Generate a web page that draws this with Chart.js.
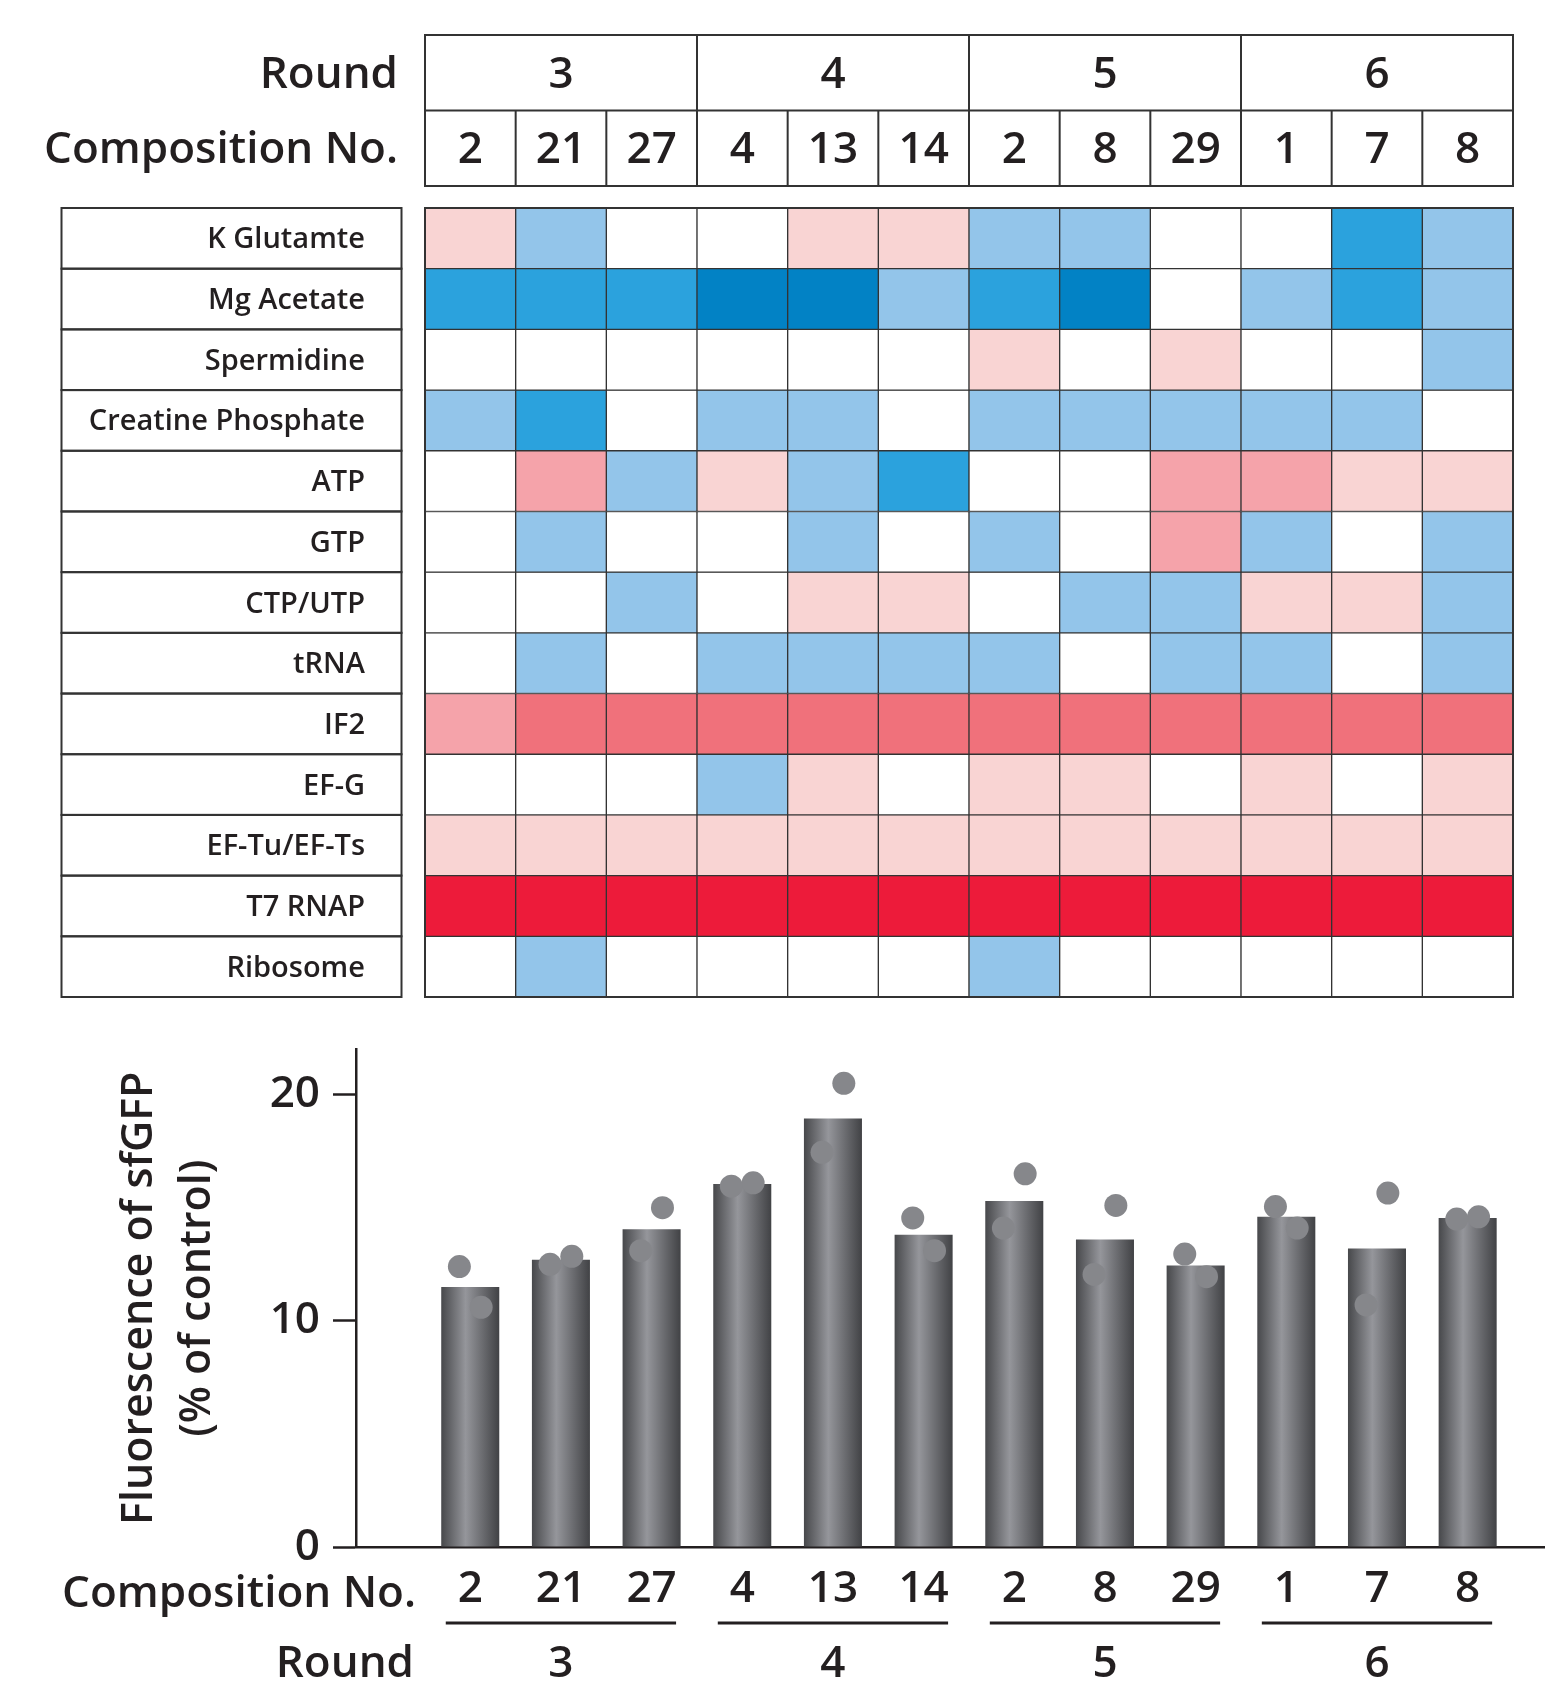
<!DOCTYPE html>
<html>
<head>
<meta charset="utf-8">
<script src="https://cdn.jsdelivr.net/npm/chart.js@4.4.1/dist/chart.umd.min.js"></script>
<style>
  html, body { margin: 0; padding: 0; background: #ffffff; }
  #wrap { position: relative; width: 1545px; height: 1682px; overflow: hidden; }
  canvas { position: absolute; left: 0; }
  #heat_map { top: 0; }
  #bar_chart { top: 1010px; }
</style>
</head>
<body>
<div id="wrap">
  <canvas id="heat_map" width="1545" height="1010"></canvas>
  <canvas id="bar_chart" width="1545" height="672"></canvas>
</div>
<script>
// ---- data ----
var rounds = ['3', '3', '3', '4', '4', '4', '5', '5', '5', '6', '6', '6'];
var compNos = ['2', '21', '27', '4', '13', '14', '2', '8', '29', '1', '7', '8'];
var components = ['K Glutamte', 'Mg Acetate', 'Spermidine', 'Creatine Phosphate', 'ATP', 'GTP',
                  'CTP/UTP', 'tRNA', 'IF2', 'EF-G', 'EF-Tu/EF-Ts', 'T7 RNAP', 'Ribosome'];

// change level per component (rows) and composition (columns); -3 strong blue ... +4 strong red
var lv_kglu  = [ 1, -1,  0,  0,  1,  1, -1, -1,  0,  0, -2, -1];
var lv_mgac  = [-2, -2, -2, -3, -3, -1, -2, -3,  0, -1, -2, -1];
var lv_sperm = [ 0,  0,  0,  0,  0,  0,  1,  0,  1,  0,  0, -1];
var lv_crp   = [-1, -2,  0, -1, -1,  0, -1, -1, -1, -1, -1,  0];
var lv_atp   = [ 0,  2, -1,  1, -1, -2,  0,  0,  2,  2,  1,  1];
var lv_gtp   = [ 0, -1,  0,  0, -1,  0, -1,  0,  2, -1,  0, -1];
var lv_ctp   = [ 0,  0, -1,  0,  1,  1,  0, -1, -1,  1,  1, -1];
var lv_trna  = [ 0, -1,  0, -1, -1, -1, -1,  0, -1, -1,  0, -1];
var lv_if2   = [ 2,  3,  3,  3,  3,  3,  3,  3,  3,  3,  3,  3];
var lv_efg   = [ 0,  0,  0, -1,  1,  0,  1,  1,  0,  1,  0,  1];
var lv_eftu  = [ 1,  1,  1,  1,  1,  1,  1,  1,  1,  1,  1,  1];
var lv_t7    = [ 4,  4,  4,  4,  4,  4,  4,  4,  4,  4,  4,  4];
var lv_ribo  = [ 0, -1,  0,  0,  0,  0, -1,  0,  0,  0,  0,  0];
var levels = [lv_kglu, lv_mgac, lv_sperm, lv_crp, lv_atp, lv_gtp, lv_ctp,
              lv_trna, lv_if2, lv_efg, lv_eftu, lv_t7, lv_ribo];

// fluorescence of sfGFP (% of control): bar = mean, two replicates as dots
var barMean  = [11.5, 12.7, 14.05, 16.05, 18.95, 13.8, 15.3, 13.6, 12.45, 14.6, 13.2, 14.55];
var repLeft  = [12.4, 12.5, 13.1, 15.95, 17.45, 14.55, 14.1, 12.05, 12.95, 15.05, 10.7, 14.5];
var repRight = [10.6, 12.85, 15.0, 16.1, 20.5, 13.1, 16.5, 15.1, 11.95, 14.1, 15.65, 14.6];
var yMax = 22;
var yStep = 10;

// ---- styles ----
var textCol = '#231f20';
var lineCol = '#333333';
var fontFam = "'Open Sans', 'Noto Sans', sans-serif";
var levelColors = {
    '-3': '#0282c5', '-2': '#2ba2dd', '-1': '#93c5ea', '0': '#ffffff',
    '1': '#f9d4d3', '2': '#f5a3aa', '3': '#f0717b', '4': '#ed1b3a'
};
var dotColor = '#86878b';
var barPct = 0.64;
var jitter = 0.12;

Chart.defaults.font.family = fontFam;
Chart.defaults.color = textCol;

function roundGroups() {
    var groups = [], start = 0;
    for (var i = 1; i <= rounds.length; i++) {
        if (i === rounds.length || rounds[i] !== rounds[i - 1]) {
            groups.push({label: rounds[start], first: start, last: i - 1});
            start = i;
        }
    }
    return groups;
}

// ---------- heat map (top) ----------
var heatDatasets = [];
for (var r = 0; r < components.length; r++) {
    heatDatasets.push({
        label: components[r],
        data: compNos.map(function () { return [r, r + 1]; }),
        backgroundColor: levels[r].map(function (v) { return levelColors[String(v)]; }),
        borderColor: lineCol,
        borderWidth: 1,
        borderSkipped: false,
        grouped: false,
        barPercentage: 1,
        categoryPercentage: 1
    });
}

var heatTablePlugin = {
    id: 'heatTable',
    afterDraw: function (chart) {
        var ctx = chart.ctx, a = chart.chartArea, xs = chart.scales.x, ys = chart.scales.y;
        var colW = (a.right - a.left) / compNos.length;
        var top = 35, mid = 110.5, bot = 186;
        ctx.save();
        ctx.strokeStyle = lineCol;
        ctx.lineWidth = 2;
        ctx.fillStyle = textCol;

        // outer frame of the heat map
        ctx.strokeRect(a.left, a.top, a.right - a.left, a.bottom - a.top);

        // header table
        ctx.strokeRect(a.left, top, a.right - a.left, bot - top);
        ctx.beginPath();
        ctx.moveTo(a.left, mid); ctx.lineTo(a.right, mid);
        for (var i = 1; i < compNos.length; i++) {
            var xp = xs.getPixelForValue(i) - colW / 2;
            ctx.moveTo(xp, rounds[i] !== rounds[i - 1] ? top : mid);
            ctx.lineTo(xp, bot);
        }
        ctx.stroke();

        ctx.font = '600 44px ' + fontFam;
        ctx.textAlign = 'center';
        ctx.textBaseline = 'alphabetic';
        roundGroups().forEach(function (g) {
            var cx = (xs.getPixelForValue(g.first) + xs.getPixelForValue(g.last)) / 2;
            ctx.fillText(g.label, cx, (top + mid) / 2 + 15);
        });
        compNos.forEach(function (c, i) {
            ctx.fillText(c, xs.getPixelForValue(i), (mid + bot) / 2 + 15);
        });
        ctx.textAlign = 'right';
        ctx.fillText('Round', 398, (top + mid) / 2 + 15);
        ctx.fillText('Composition No.', 398, (mid + bot) / 2 + 15);

        // component label column
        ctx.font = '600 29px ' + fontFam;
        for (var r = 0; r < components.length; r++) {
            var y0 = ys.getPixelForValue(r), y1 = ys.getPixelForValue(r + 1);
            ctx.strokeRect(61.5, y0, 340, y1 - y0);
            ctx.fillText(components[r], 365, (y0 + y1) / 2 + 10);
        }
        ctx.restore();
    }
};

new Chart(document.getElementById('heat_map').getContext('2d'), {
    type: 'bar',
    data: { labels: compNos, datasets: heatDatasets },
    options: {
        responsive: false,
        devicePixelRatio: 1,
        animation: false,
        layout: { padding: { left: 425, right: 32, top: 208, bottom: 13 } },
        scales: {
            x: { type: 'category', display: false, offset: true },
            y: { type: 'linear', display: false, min: 0, max: components.length, reverse: true }
        },
        plugins: { legend: { display: false }, tooltip: { enabled: false } }
    },
    plugins: [heatTablePlugin]
});

// ---------- bar chart (bottom) ----------
var barGradient = function (c) {
    var chart = c.chart, xs = chart.scales.x;
    if (c.type !== 'data' || !xs || !c.raw) return '#6e6f73';
    var cx = xs.getPixelForValue(c.raw.x);
    var half = (xs.getPixelForValue(1) - xs.getPixelForValue(0)) * barPct / 2;
    if (!isFinite(cx) || !isFinite(half) || half <= 0) return '#6e6f73';
    var g = chart.ctx.createLinearGradient(cx - half, 0, cx + half, 0);
    g.addColorStop(0, '#47484b');
    g.addColorStop(0.42, '#95969b');
    g.addColorStop(1, '#414245');
    return g;
};

var barAxisPlugin = {
    id: 'barAxis',
    afterDraw: function (chart) {
        var ctx = chart.ctx, a = chart.chartArea, xs = chart.scales.x;
        var colW = xs.getPixelForValue(1) - xs.getPixelForValue(0);
        ctx.save();
        ctx.fillStyle = textCol;
        ctx.strokeStyle = textCol;
        ctx.font = '600 44px ' + fontFam;
        ctx.textAlign = 'right';
        ctx.textBaseline = 'alphabetic';
        ctx.fillText('Composition No.', 416, a.bottom + 60);
        ctx.fillText('Round', 414, a.bottom + 130);
        ctx.textAlign = 'center';
        ctx.lineWidth = 3;
        roundGroups().forEach(function (g) {
            var x0 = xs.getPixelForValue(g.first) - colW * 0.27;
            var x1 = xs.getPixelForValue(g.last) + colW * 0.27;
            ctx.beginPath();
            ctx.moveTo(x0, a.bottom + 76);
            ctx.lineTo(x1, a.bottom + 76);
            ctx.stroke();
            ctx.fillText(g.label, (xs.getPixelForValue(g.first) + xs.getPixelForValue(g.last)) / 2, a.bottom + 130);
        });
        ctx.restore();
    }
};

// x range chosen so compositions line up under the heat map columns
var xMin = -1.26, xMax = 11.853;

new Chart(document.getElementById('bar_chart').getContext('2d'), {
    data: {
        datasets: [{
            type: 'scatter',
            label: 'replicate 1',
            data: repLeft.map(function (v, i) { return {x: i - jitter, y: v}; }),
            backgroundColor: dotColor,
            borderWidth: 0,
            pointRadius: 11.5,
            order: 0
        }, {
            type: 'scatter',
            label: 'replicate 2',
            data: repRight.map(function (v, i) { return {x: i + jitter, y: v}; }),
            backgroundColor: dotColor,
            borderWidth: 0,
            pointRadius: 11.5,
            order: 0
        }, {
            type: 'bar',
            label: 'mean',
            data: barMean.map(function (v, i) { return {x: i, y: v}; }),
            backgroundColor: barGradient,
            borderWidth: 0,
            barPercentage: barPct,
            categoryPercentage: 1,
            order: 1
        }]
    },
    options: {
        responsive: false,
        devicePixelRatio: 1,
        animation: false,
        layout: { autoPadding: false, padding: { left: 0, right: 0, top: 39, bottom: 0 } },
        scales: {
            x: {
                type: 'linear',
                min: xMin,
                max: xMax,
                offset: false,
                afterFit: function (s) { s.height = 135; s.paddingLeft = 0; s.paddingRight = 0; },
                grid: { display: true, offset: false, drawOnChartArea: false, drawTicks: false },
                border: { display: true, color: textCol, width: 2.5 },
                ticks: {
                    stepSize: 1,
                    autoSkip: false,
                    includeBounds: false,
                    maxRotation: 0,
                    padding: 16,
                    color: textCol,
                    font: { size: 44, weight: '600' },
                    callback: function (v) {
                        return (Number.isInteger(v) && v >= 0 && v < compNos.length) ? compNos[v] : '';
                    }
                }
            },
            y: {
                type: 'linear',
                min: 0,
                max: yMax,
                afterFit: function (s) { s.width = 356; },
                grid: { drawOnChartArea: false, drawTicks: true, tickLength: 23, tickWidth: 2.5, tickColor: textCol },
                border: { display: true, color: textCol, width: 2.5 },
                ticks: {
                    stepSize: yStep,
                    includeBounds: false,
                    padding: 13,
                    color: textCol,
                    font: { size: 44, weight: '600' }
                },
                title: {
                    display: true,
                    text: ['Fluorescence of sfGFP', '(% of control)'],
                    color: textCol,
                    font: { size: 43, weight: '600', lineHeight: 1.35 },
                    padding: { top: 111, bottom: 0 }
                }
            }
        },
        plugins: { legend: { display: false }, tooltip: { enabled: false } }
    },
    plugins: [barAxisPlugin]
});
</script>
</body>
</html>
